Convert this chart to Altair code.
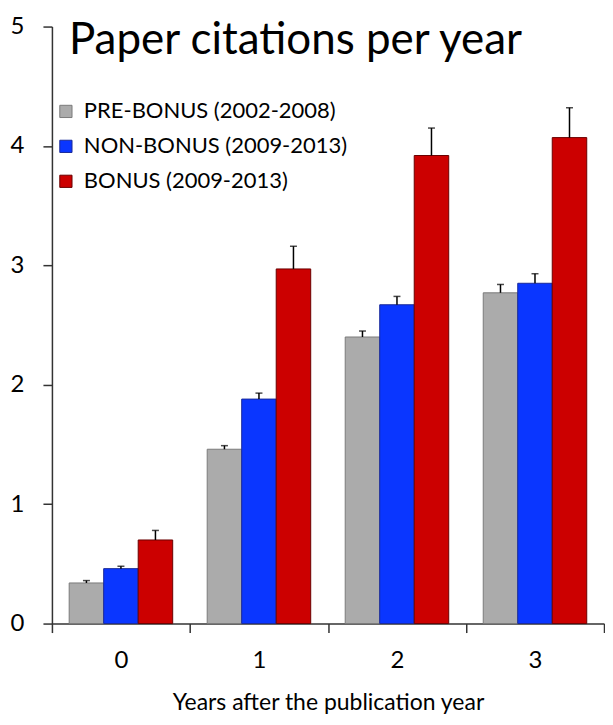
import altair as alt
import pandas as pd

years = ["0", "1", "2", "3"]
series = ["PRE-BONUS (2002-2008)", "NON-BONUS (2009-2013)", "BONUS (2009-2013)"]
pre_vals = [0.34, 1.46, 2.40, 2.77]
pre_err = [0.36, 1.49, 2.45, 2.84]
non_vals = [0.46, 1.88, 2.67, 2.85]
non_err = [0.48, 1.93, 2.74, 2.93]
bonus_vals = [0.70, 2.97, 3.92, 4.07]
bonus_err = [0.78, 3.16, 4.15, 4.32]

fills = ["#ABABAB", "#0A36FF", "#CC0000"]
strokes = ["#7A7A7A", "#1A2A9A", "#6A0000"]

rows = []
for s, vals, errs in zip(series, [pre_vals, non_vals, bonus_vals], [pre_err, non_err, bonus_err]):
    for y, v, e in zip(years, vals, errs):
        rows.append({"year": y, "series": s, "value": v, "top": e})
df = pd.DataFrame(rows)

FONT = "Lato"

x_enc = alt.X("year:N", sort=years,
              scale=alt.Scale(paddingInner=0, paddingOuter=0),
              axis=alt.Axis(title="Years after the publication year", labelAngle=0,
                            tickBand="extent", tickSize=9, labelPadding=16,
                            labelFontSize=24, titleFontSize=23, titlePadding=19,
                            titleFontWeight="normal"))
xo_enc = alt.XOffset("series:N", sort=series,
                     scale=alt.Scale(paddingInner=0, paddingOuter=0.5))

base = alt.Chart(df)

bars = base.mark_bar(strokeWidth=1).encode(
    x=x_enc,
    xOffset=xo_enc,
    y=alt.Y("value:Q", scale=alt.Scale(domain=[0, 5], nice=False),
            axis=alt.Axis(title=None, values=[0, 1, 2, 3, 4, 5], format="d", tickSize=9,
                          labelPadding=19, labelFontSize=24, grid=False)),
    color=alt.Color("series:N", sort=series,
                    scale=alt.Scale(domain=series, range=fills),
                    legend=alt.Legend(title=None, orient="none", legendX=3, legendY=74,
                                      labelFontSize=22, labelLimit=0, symbolType="square",
                                      symbolSize=150, symbolStrokeWidth=1,
                                      symbolStrokeColor="#555555",
                                      rowPadding=13, labelOffset=7)),
    stroke=alt.Stroke("series:N", sort=series,
                      scale=alt.Scale(domain=series, range=strokes), legend=None),
)

err_rule = base.mark_rule(color="black", strokeWidth=1.5).encode(
    x=alt.X("year:N", sort=years),
    xOffset=alt.XOffset("series:N", sort=series),
    y="value:Q",
    y2="top:Q",
)
err_cap = base.mark_tick(color="black", orient="horizontal", size=7, thickness=1.5).encode(
    x=alt.X("year:N", sort=years),
    xOffset=alt.XOffset("series:N", sort=series),
    y="top:Q",
)

title = alt.Chart(pd.DataFrame({"t": ["Paper citations per year"]})).mark_text(
    align="left", baseline="alphabetic", fontSize=44, font=FONT, color="#000000"
).encode(text="t:N", x=alt.value(17), y=alt.value(27))

chart = alt.layer(bars, err_rule, err_cap, title).properties(
    width=553, height=598, padding={"left": 2, "top": 6, "right": 0, "bottom": 0}
).configure_axis(
    labelFont=FONT, titleFont=FONT, labelColor="#000000", titleColor="#000000",
    domainColor="#333333", tickColor="#333333", domainWidth=1.5, tickWidth=1.5,
).configure_legend(labelFont=FONT, labelColor="#000000").configure_view(stroke=None)

chart.save("out.html", embed_options={"renderer": "svg", "actions": False})
